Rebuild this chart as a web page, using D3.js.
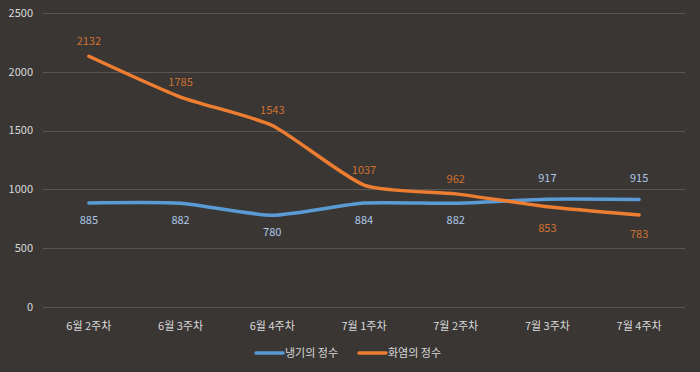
<!DOCTYPE html>
<html>
<head>
<meta charset="utf-8">
<style>
  body { margin: 0; background: #3a3634; }
  svg { display: block; font-family: "Noto Sans CJK KR", "Noto Sans", sans-serif; }
  .grid line { stroke: #595553; stroke-width: 1px; }
  .tick-label { fill: #d9d9d9; font-size: 11px; }
</style>
</head>
<body>
<div id="chart"></div>
<script src="https://d3js.org/d3.v7.min.js"></script>
<script>
  const weeks = ["6월 2주차", "6월 3주차", "6월 4주차", "7월 1주차", "7월 2주차", "7월 3주차", "7월 4주차"];
  const coldValues = [885, 882, 780, 884, 882, 917, 915];
  const fireValues = [2132, 1785, 1543, 1037, 962, 853, 783];
  const yTicks = [0, 500, 1000, 1500, 2000, 2500];
  const seriesNames = ["냉기의 정수", "화염의 정수"];

  // label offset from the point, in px (negative = above)
  const coldLabelShift = [17, 17, 17, 17, 17, -21, -21];
  const fireLabelShift = [-15, -15, -15, -15, -15, 21, 19];

  const width = 700, height = 372;
  const plotLeft = 43, plotRight = 685, plotTop = 13, plotBottom = 307;

  const svg = d3.select("#chart").append("svg")
    .attr("width", width)
    .attr("height", height);

  svg.append("rect").attr("width", width).attr("height", height).attr("fill", "#3a3634");

  const x = d3.scaleBand().domain(weeks).range([plotLeft, plotRight]);
  const y = d3.scaleLinear().domain([0, 2500]).range([plotBottom, plotTop]);

  // gridlines
  svg.append("g").attr("class", "grid")
    .selectAll("line")
    .data(yTicks)
    .enter().append("line")
    .attr("x1", plotLeft).attr("x2", plotRight)
    .attr("y1", d => Math.round(y(d)) + 0.5)
    .attr("y2", d => Math.round(y(d)) + 0.5);

  // y tick labels
  svg.append("g")
    .selectAll("text")
    .data(yTicks)
    .enter().append("text")
    .attr("class", "tick-label")
    .attr("x", 33)
    .attr("y", d => y(d))
    .attr("dy", "0.35em")
    .attr("text-anchor", "end")
    .text(d => d);

  // x tick labels
  svg.append("g")
    .selectAll("text")
    .data(weeks)
    .enter().append("text")
    .attr("class", "tick-label")
    .attr("x", d => x(d) + x.bandwidth() / 2)
    .attr("y", 326)
    .attr("dy", "0.35em")
    .attr("text-anchor", "middle")
    .text(d => d);

  const line = d3.line()
    .x((d, i) => x(weeks[i]) + x.bandwidth() / 2)
    .y(d => y(d))
    .curve(d3.curveCardinal.tension(0.4));

  function drawSeries(values, color, labelColor, shifts) {
    svg.append("path")
      .datum(values)
      .attr("fill", "none")
      .attr("stroke", color)
      .attr("stroke-width", 3.5)
      .attr("stroke-linecap", "round")
      .attr("stroke-linejoin", "round")
      .attr("d", line);

    svg.append("g")
      .selectAll("text")
      .data(values)
      .enter().append("text")
      .attr("x", (d, i) => x(weeks[i]) + x.bandwidth() / 2)
      .attr("y", (d, i) => y(d) + shifts[i])
      .attr("dy", "0.35em")
      .attr("text-anchor", "middle")
      .attr("fill", labelColor)
      .attr("font-size", "11px")
      .text(d => d);
  }

  drawSeries(coldValues, "#5b9bd5", "#adc6e6", coldLabelShift);
  drawSeries(fireValues, "#ed7d31", "#d0712f", fireLabelShift);

  // legend
  const legendColors = ["#5b9bd5", "#ed7d31"];
  const legendX = [256, 359];
  const legend = svg.append("g")
    .selectAll("g")
    .data(seriesNames)
    .enter().append("g")
    .attr("transform", (d, i) => "translate(" + legendX[i] + ",353)");
  legend.append("line")
    .attr("x1", 0).attr("x2", 27)
    .attr("stroke", (d, i) => legendColors[i])
    .attr("stroke-width", 3.5)
    .attr("stroke-linecap", "round");
  legend.append("text")
    .attr("class", "tick-label")
    .attr("x", 29)
    .attr("dy", "0.35em")
    .text(d => d);
</script>
</body>
</html>
